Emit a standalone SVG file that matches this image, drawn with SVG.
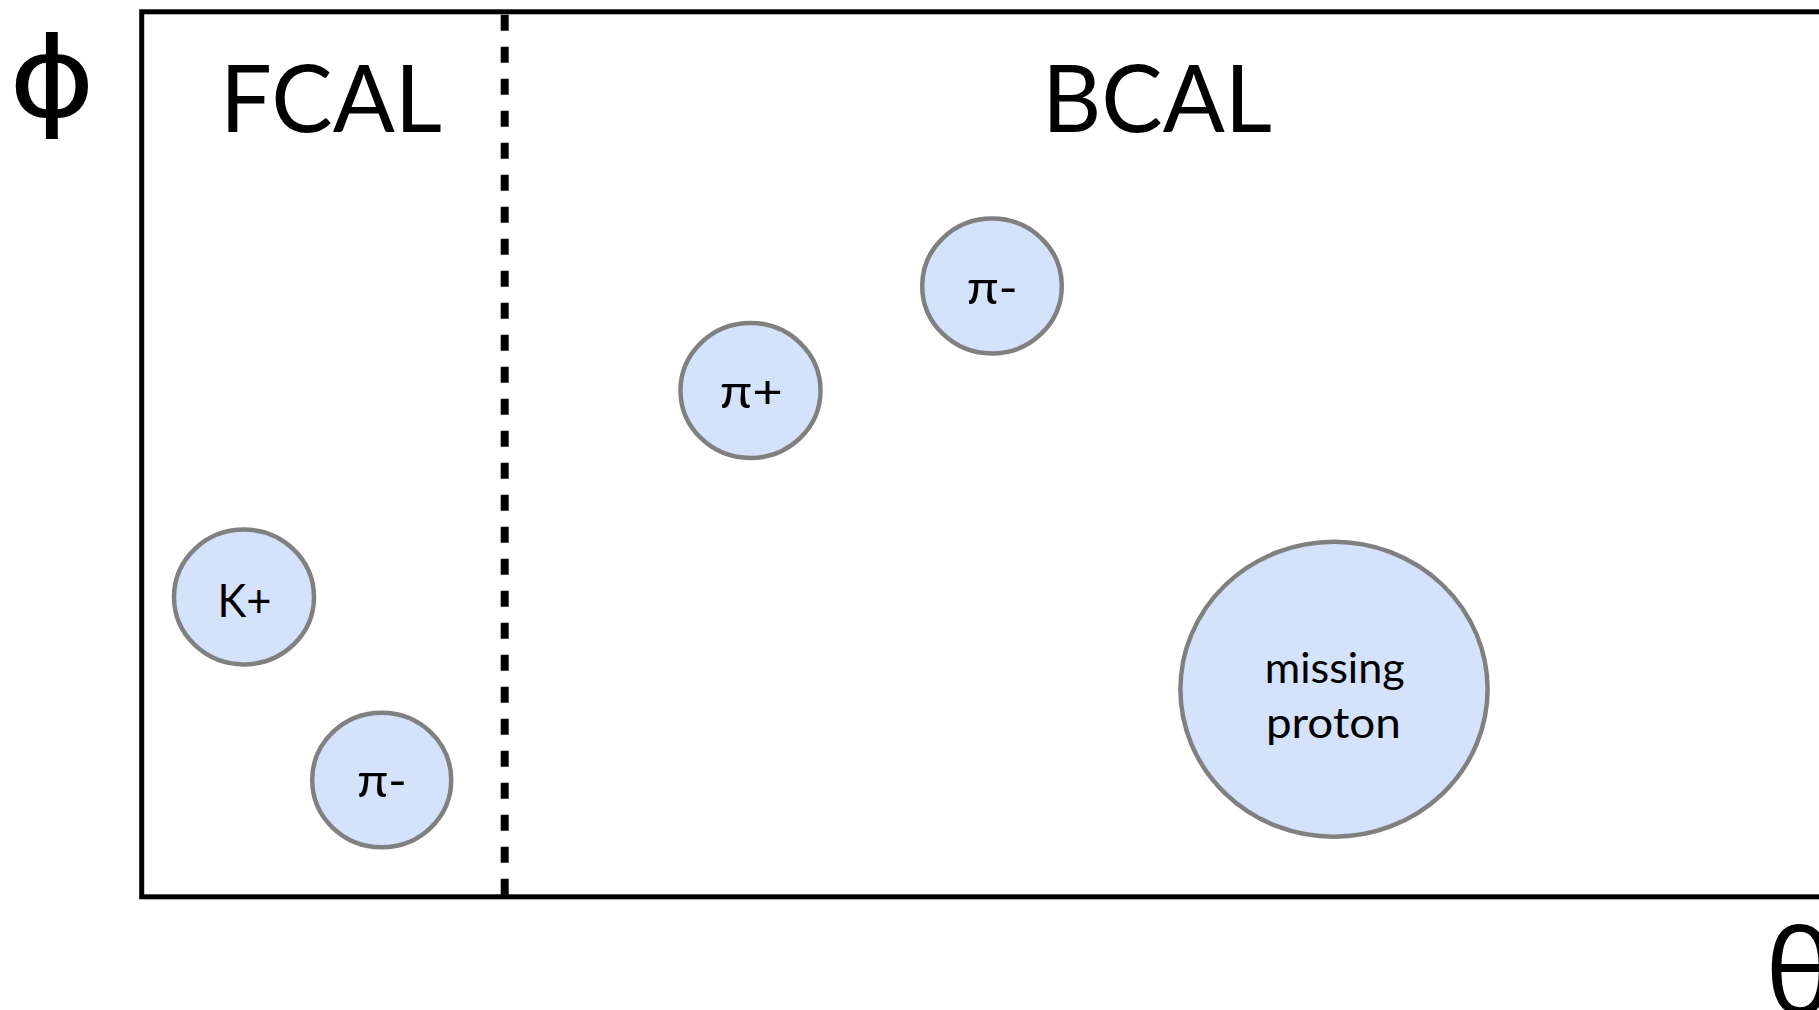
<svg xmlns="http://www.w3.org/2000/svg" width="1819" height="1010" viewBox="0 0 1819 1010">
<style>
  text { font-family: Lato, "Open Sans", "DejaVu Sans", sans-serif; fill: #000; text-anchor: middle; }
  .big { font-size: 93px; }
  .axis { font-family: "Open Sans", "DejaVu Sans", sans-serif; font-size: 118px; }
  .phi { font-family: "Open Sans", "DejaVu Sans", sans-serif; font-size: 110px; }
  .lbl { font-size: 46px; }
  .lbl2 { font-size: 42px; }
  .blob { fill: #d4e2fc; stroke: #808080; stroke-width: 4.5; }
</style>
<rect width="1819" height="1010" fill="#ffffff"/>
<g id="frame">
  <rect x="141.7" y="11.8" width="1720" height="885" fill="none" stroke="#000" stroke-width="5"/>
  <line x1="504.7" y1="14.7" x2="504.7" y2="894.7" stroke="#000" stroke-width="8" stroke-dasharray="16 16"/>
</g>
<g id="axis-phi"><text class="phi" transform="translate(52,116) scale(1.2,1)" x="0" y="0">ϕ</text></g>
<g id="axis-theta"><text class="axis" x="1800" y="1014">θ</text></g>
<g id="label-fcal"><text class="big" x="331" y="131.7" textLength="222" lengthAdjust="spacingAndGlyphs">FCAL</text></g>
<g id="label-bcal"><text class="big" x="1157" y="131.7" textLength="230" lengthAdjust="spacingAndGlyphs">BCAL</text></g>
<g id="node-kplus">
  <ellipse class="blob" cx="244" cy="597" rx="70" ry="67.4"/>
  <text class="lbl" x="244.5" y="616.7" textLength="54" lengthAdjust="spacingAndGlyphs">K+</text>
</g>
<g id="node-piminus-fcal">
  <ellipse class="blob" cx="381.7" cy="780" rx="69.5" ry="67.2"/>
  <text class="lbl" x="382" y="797.3" textLength="50" lengthAdjust="spacingAndGlyphs">π-</text>
</g>
<g id="node-piplus">
  <ellipse class="blob" cx="750.5" cy="390.5" rx="70" ry="67.5"/>
  <text class="lbl" x="751.3" y="408.3" textLength="63" lengthAdjust="spacingAndGlyphs">π+</text>
</g>
<g id="node-piminus-bcal">
  <ellipse class="blob" cx="992" cy="286" rx="69.8" ry="67.5"/>
  <text class="lbl" x="992.3" y="304" textLength="51" lengthAdjust="spacingAndGlyphs">π-</text>
</g>
<g id="node-missing-proton">
  <ellipse class="blob" cx="1334" cy="689.3" rx="153.6" ry="147.5"/>
  <text class="lbl2" x="1334.7" y="683" textLength="140" lengthAdjust="spacingAndGlyphs">missing</text>
  <text class="lbl2" x="1333.4" y="737.5" textLength="135" lengthAdjust="spacingAndGlyphs">proton</text>
</g>
<g id="connectors"></g>
</svg>
